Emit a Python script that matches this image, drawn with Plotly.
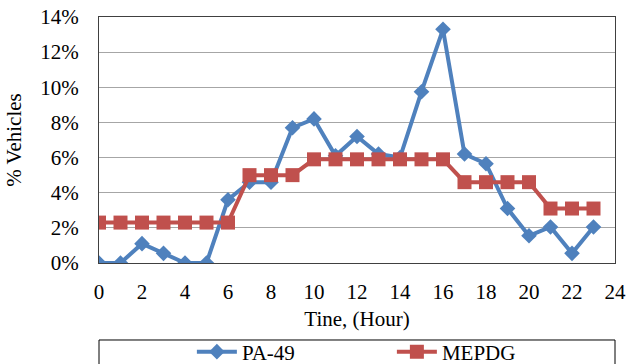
import plotly.graph_objects as go

# Hourly share of vehicles (%)
hours = list(range(24))
pa49 = [0.0, 0.0, 1.1, 0.55, 0.0, 0.0, 3.6, 4.6, 4.6, 7.7, 8.2, 6.1,
        7.2, 6.2, 6.0, 9.75, 13.3, 6.2, 5.65, 3.1, 1.55, 2.05, 0.55, 2.05]
mepdg = [2.3, 2.3, 2.3, 2.3, 2.3, 2.3, 2.3, 5.0, 5.0, 5.0, 5.9, 5.9,
         5.9, 5.9, 5.9, 5.9, 5.9, 4.6, 4.6, 4.6, 4.6, 3.1, 3.1, 3.1]
y_ticks = [0, 2, 4, 6, 8, 10, 12, 14]
y_labels = [f"{v}%" for v in y_ticks]
x_ticks = list(range(0, 25, 2))

BLUE = "#4F81BD"
RED = "#C0504D"
FONT = "Liberation Serif"
FS = 21

fig = go.Figure()
fig.add_trace(go.Scatter(
    x=hours, y=pa49, name="PA-49", mode="lines+markers",
    line=dict(color=BLUE, width=4),
    marker=dict(symbol="diamond", size=12, color=BLUE),
))
fig.add_trace(go.Scatter(
    x=hours, y=mepdg, name="MEPDG", mode="lines+markers",
    line=dict(color=RED, width=4),
    marker=dict(symbol="square", size=14, color=RED),
))

# legend frame spanning the plot width
fig.add_shape(type="rect", xref="paper", yref="paper",
              x0=0, x1=1, y0=-0.43, y1=-0.313,
              line=dict(color="#000000", width=1), fillcolor="rgba(0,0,0,0)")

fig.update_layout(
    width=626, height=364,
    margin=dict(l=99, r=11, t=17, b=101, autoexpand=False),
    paper_bgcolor="white", plot_bgcolor="white",
    font=dict(family=FONT, size=FS, color="#000000"),
    showlegend=True,
    legend=dict(orientation="h", xref="paper", x=0.18, xanchor="left",
                yref="container", y=0.033, yanchor="middle",
                font=dict(family=FONT, size=FS), entrywidth=145,
                bgcolor="rgba(0,0,0,0)", itemwidth=40),
    xaxis=dict(range=[0, 24], tickvals=x_ticks, showgrid=False, zeroline=False,
               showline=True, linecolor="#404040", linewidth=1, mirror=True,
               ticks="", ticklabelstandoff=10, automargin=False,
               title=dict(text="Tine, (Hour)", font=dict(family=FONT, size=FS), standoff=8)),
    yaxis=dict(range=[0, 14], tickvals=y_ticks, ticktext=y_labels,
               showgrid=True, gridcolor="#A6A6A6", gridwidth=1, zeroline=False,
               showline=True, linecolor="#404040", linewidth=1, mirror=True,
               ticks="", ticklabelstandoff=15, automargin=False,
               title=dict(text="% Vehicles", font=dict(family=FONT, size=FS), standoff=12)),
)

fig.write_html("out.html")
